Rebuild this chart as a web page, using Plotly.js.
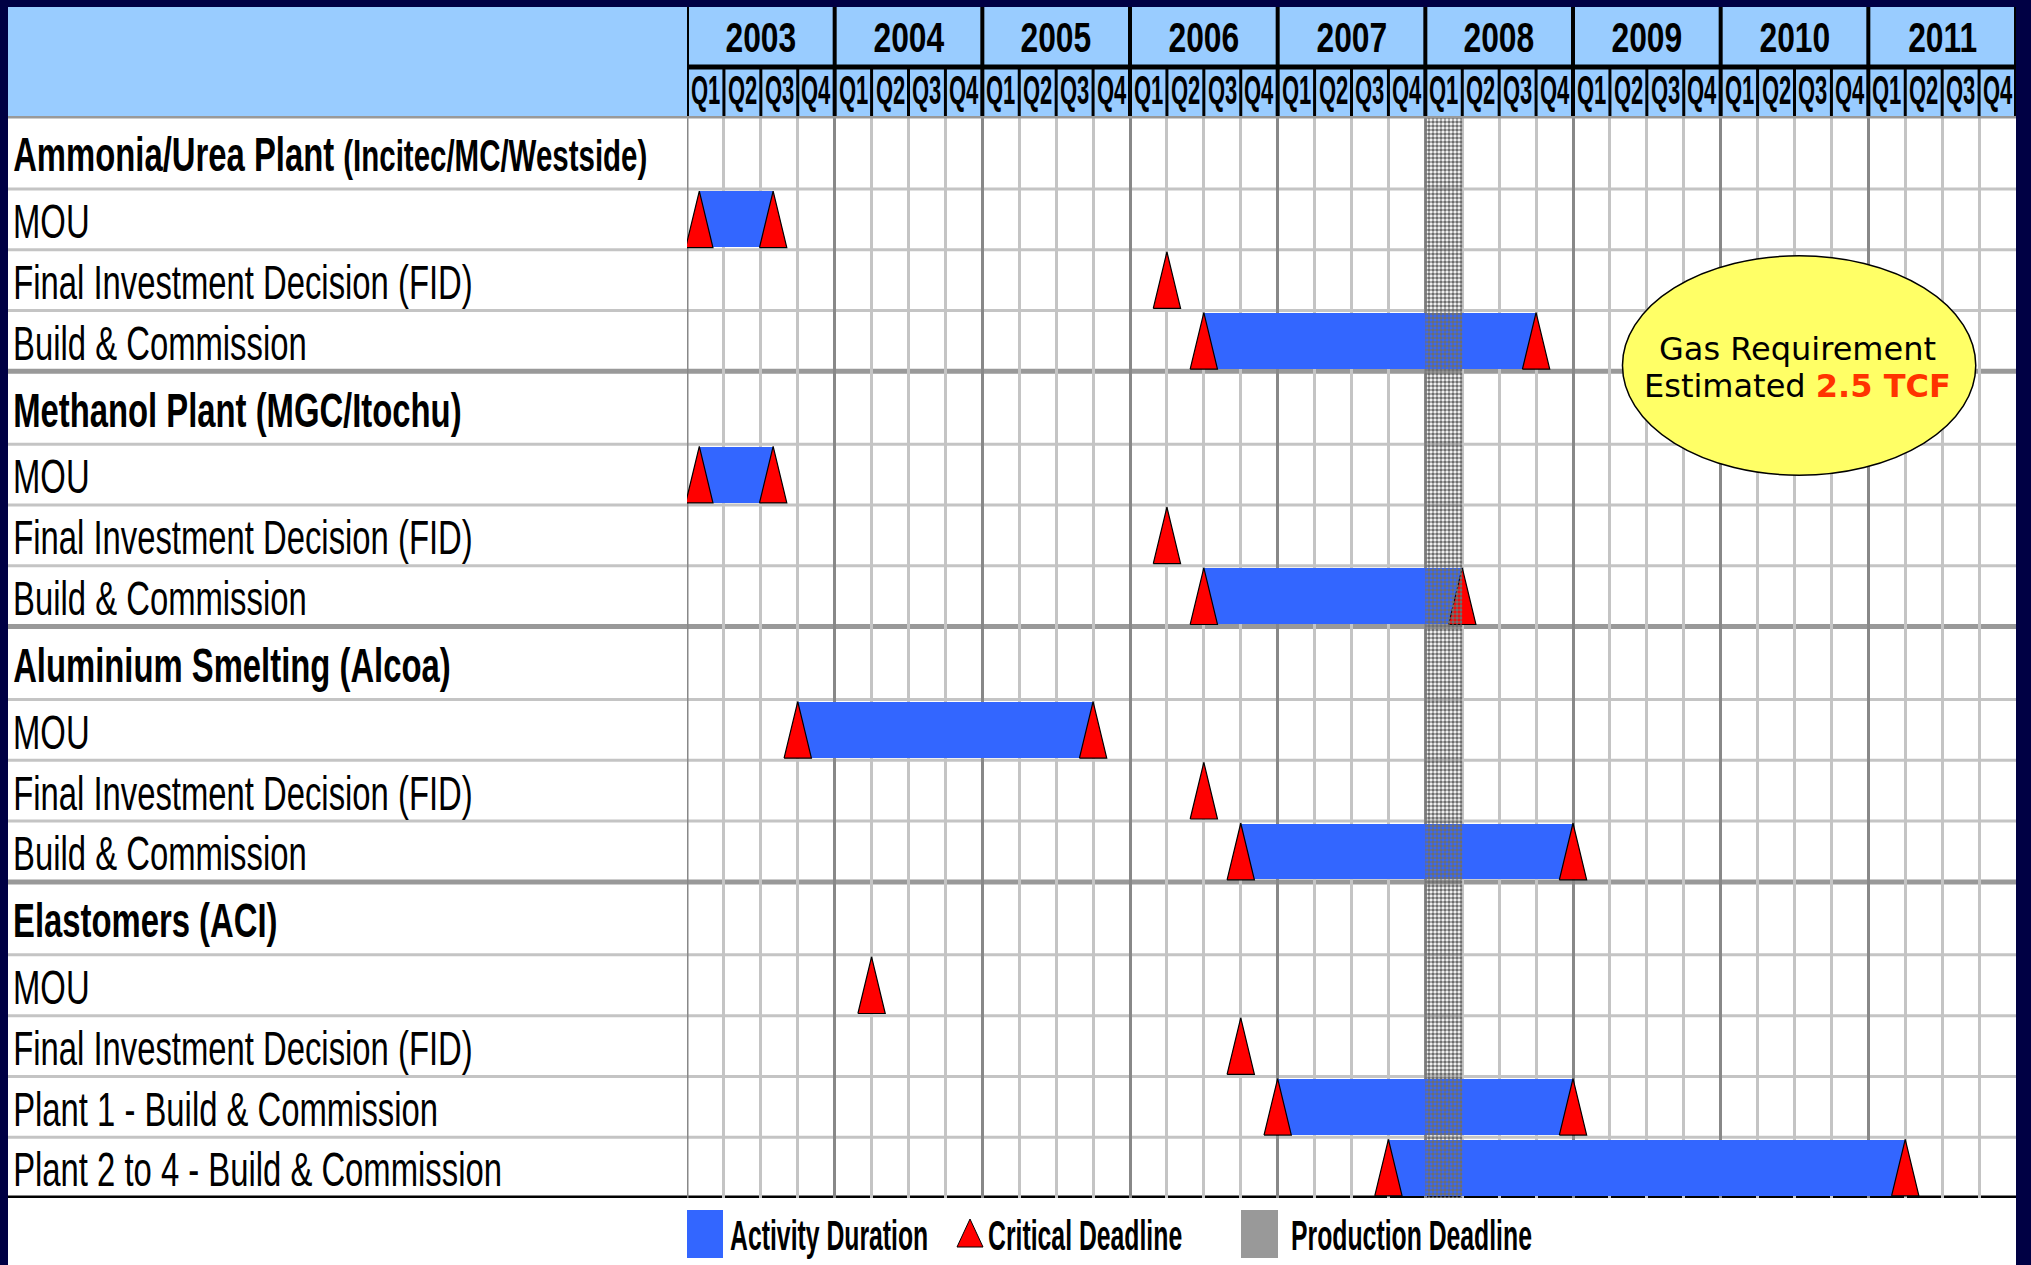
<!DOCTYPE html>
<html>
<head>
<meta charset="utf-8">
<script src="https://cdn.plot.ly/plotly-3.0.1.min.js"></script>
<style>
html, body { margin: 0; padding: 0; background: #000044; overflow: hidden; }
#chart { width: 2031px; height: 1265px; }
</style>
<style id="textfit"></style>
</head>
<body>
<div id="chart"></div>
<script>
// ---------------- data ----------------
const years = ["2003", "2004", "2005", "2006", "2007", "2008", "2009", "2010", "2011"];
const quarterLabels = ["Q1", "Q2", "Q3", "Q4"];

const groupNames = ["Ammonia/Urea Plant", "Methanol Plant", "Aluminium Smelting", "Elastomers"];
const groupPartners = ["(Incitec/MC/Westside)", "(MGC/Itochu)", "(Alcoa)", "(ACI)"];

const activityNames = [
  "MOU", "Final Investment Decision (FID)", "Build & Commission",
  "MOU", "Final Investment Decision (FID)", "Build & Commission",
  "MOU", "Final Investment Decision (FID)", "Build & Commission",
  "MOU", "Final Investment Decision (FID)", "Plant 1 - Build & Commission", "Plant 2 to 4 - Build & Commission"
];
const activityGroup = [0, 0, 0, 1, 1, 1, 2, 2, 2, 3, 3, 3, 3];
// start / end month of each activity (a single date = critical deadline only)
const activityStart = ["2003-02", "2006-04", "2006-07", "2003-02", "2006-04", "2006-07",
                       "2003-10", "2006-07", "2006-10", "2004-04", "2006-10", "2007-01", "2007-10"];
const activityEnd   = ["2003-08", null, "2008-10", "2003-08", null, "2008-04",
                       "2005-10", null, "2009-01", null, null, "2009-01", "2011-04"];

const productionDeadline = ["2008-01", "2008-04"];

const legendLabels = ["Activity Duration", "Critical Deadline", "Production Deadline"];
const calloutLines = ["Gas Requirement", "Estimated"];
const calloutValue = "2.5 TCF";

// ---------------- helpers ----------------
const W = 2031, H = 1265, ML = 687, MR = 15, MT = 116, MB = 67;
const plotW = W - ML - MR, plotH = H - MT - MB;
const px2x = px => (px - ML) / plotW;
const py2y = py => (H - MB - py) / plotH;

const firstYear = parseInt(years[0], 10);
const nQuarters = years.length * quarterLabels.length;
const q = s => {
  const [y, m] = s.split("-").map(Number);
  return (y - firstYear) * 4 + (m - 1) / 3;
};

const SANS = '"Liberation Sans", Arimo, Arial, sans-serif';
const VERDANA = '"DejaVu Sans", Verdana, sans-serif';

const BLUE = "#3366FF", RED = "#FF0000", GRAY = "#999999";

// ---------------- rows ----------------
const HEADER_H = 1.2, ITEM_H = 1;
const rows = [];
groupNames.forEach((g, gi) => {
  rows.push({ type: "header", gi: gi });
  activityNames.forEach((a, ai) => { if (activityGroup[ai] === gi) rows.push({ type: "item", ai: ai, gi: gi }); });
});
let cur = 0;
rows.forEach(r => {
  r.h = r.type === "header" ? HEADER_H : ITEM_H;
  r.top = cur; r.bottom = cur + r.h; r.mid = cur + r.h / 2;
  cur += r.h;
});
const Y_MAX = cur;

// ---------------- traces ----------------
const barY = [], barBase = [], barLen = [];
const triX = [], triY = [];
const HALF = 0.37, GAP = 0.035;
rows.forEach(r => {
  if (r.type !== "item") return;
  const s = activityStart[r.ai], e = activityEnd[r.ai];
  const marks = [q(s)];
  if (e) {
    barY.push(r.mid); barBase.push(q(s)); barLen.push(q(e) - q(s));
    marks.push(q(e));
  }
  marks.forEach(m => {
    triX.push(m - HALF, m, m + HALF, m - HALF, null);
    triY.push(r.bottom - GAP, r.top + GAP, r.bottom - GAP, r.bottom - GAP, null);
  });
});

const pd0 = q(productionDeadline[0]), pd1 = q(productionDeadline[1]);

const traces = [
  {
    type: "bar", orientation: "h", y: barY, x: barLen, base: barBase, width: 0.92,
    marker: { color: BLUE, line: { width: 0 } }, hoverinfo: "skip", showlegend: false
  },
  {
    type: "scatter", mode: "lines", x: triX, y: triY, fill: "toself", fillcolor: RED,
    line: { color: "#000000", width: 1.2 }, hoverinfo: "skip", showlegend: false
  },
  {
    type: "scatter", mode: "lines", x: [pd0, pd1, pd1, pd0, pd0], y: [0, 0, Y_MAX, Y_MAX, 0],
    fill: "toself", fillcolor: "rgba(0,0,0,0)",
    fillpattern: { shape: ".", fgcolor: "#6e6e6e", bgcolor: "rgba(0,0,0,0)", size: 4, solidity: 0.62, fillmode: "replace" },
    line: { width: 0, color: "rgba(0,0,0,0)" }, hoverinfo: "skip", showlegend: false
  }
];

// ---------------- shapes ----------------
const shapes = [];
shapes.push({ type: "rect", xref: "paper", yref: "paper", x0: px2x(8), x1: px2x(2016), y0: py2y(H), y1: py2y(7),
  fillcolor: "#FFFFFF", line: { width: 0 }, layer: "below" });
shapes.push({ type: "rect", xref: "paper", yref: "paper", x0: px2x(8), x1: px2x(2016), y0: py2y(116), y1: py2y(7),
  fillcolor: "#99CCFF", line: { width: 0 }, layer: "below" });

rows.forEach((r, i) => {
  const next = rows[i + 1];
  let color = "#C4C4C4", width = 3;
  if (!next) { color = "#000000"; width = 5; }
  else if (next.type === "header") { color = GRAY; width = 5; }
  shapes.push({ type: "line", xref: "paper", yref: "y", x0: px2x(8), x1: px2x(2016), y0: r.bottom, y1: r.bottom,
    line: { color: color, width: width }, layer: "below" });
});
shapes.push({ type: "line", xref: "paper", yref: "y", x0: px2x(8), x1: px2x(2016), y0: 0, y1: 0,
  line: { color: GRAY, width: 5 }, layer: "above" });
shapes.push({ type: "line", xref: "x", yref: "y", x0: 0, x1: 0, y0: 0, y1: Y_MAX,
  line: { color: "#888888", width: 3 }, layer: "below" });

for (let i = 0; i <= nQuarters; i++) {
  shapes.push({ type: "line", xref: "x", yref: "paper", x0: i, x1: i, y0: py2y(116), y1: py2y(i % 4 === 0 ? 7 : 67),
    line: { color: "#000000", width: i % 4 === 0 ? 4 : 3 }, layer: "above" });
}
shapes.push({ type: "line", xref: "paper", yref: "paper", x0: 0, x1: 1, y0: py2y(67), y1: py2y(67),
  line: { color: "#000000", width: 5 }, layer: "above" });

shapes.push({ type: "circle", xref: "x", yref: "y", x0: 25.34, x1: 34.91, y0: 2.30, y1: 5.91,
  fillcolor: "#FFFF66", line: { color: "#000000", width: 1.5 }, layer: "above" });

shapes.push({ type: "rect", xref: "paper", yref: "paper", x0: px2x(687), x1: px2x(723), y0: py2y(1258), y1: py2y(1210),
  fillcolor: BLUE, line: { width: 0 } });
shapes.push({ type: "path", xref: "paper", yref: "paper",
  path: "M" + px2x(957) + "," + py2y(1247) + " L" + px2x(970) + "," + py2y(1219) + " L" + px2x(983) + "," + py2y(1247) + " Z",
  fillcolor: RED, line: { color: "#000000", width: 1 } });
shapes.push({ type: "rect", xref: "paper", yref: "paper", x0: px2x(1241), x1: px2x(1278), y0: py2y(1258), y1: py2y(1210),
  fillcolor: GRAY, line: { width: 0 } });

// ---------------- annotations ----------------
// narrow (condensed) look: each annotation may get a horizontal squeeze factor
const annotations = [];
const squeeze = [];
function addAnn(a, sx) { annotations.push(a); squeeze.push(sx ? { sx: sx, origin: a.xanchor === "left" ? "0% 50%" : "50% 50%" } : null); }

years.forEach((y, i) => {
  addAnn({ xref: "x", yref: "paper", x: i * 4 + 2, y: py2y(37), text: "<b>" + y + "</b>", showarrow: false,
    xanchor: "center", yanchor: "middle", font: { family: SANS, size: 43, color: "#000000" } }, 0.74);
});
for (let i = 0; i < nQuarters; i++) {
  addAnn({ xref: "x", yref: "paper", x: i + 0.5, y: py2y(90), text: "<b>" + quarterLabels[i % 4] + "</b>",
    showarrow: false, xanchor: "center", yanchor: "middle", font: { family: SANS, size: 40, color: "#000000" } }, 0.55);
}
rows.forEach(r => {
  let text;
  if (r.type === "header") {
    const name = groupNames[r.gi], partner = groupPartners[r.gi];
    const long = (name + partner).length > 35;
    text = "<b>" + name + " " + (long ? "<span style='font-size:44px'>" + partner + "</span>" : partner) + "</b>";
  } else {
    text = activityNames[r.ai];
  }
  addAnn({ xref: "paper", yref: "y", x: px2x(11), y: r.mid + 0.03, text: text, showarrow: false,
    xanchor: "left", yanchor: "middle", font: { family: SANS, size: 49, color: "#000000" } }, r.type === "header" ? 0.67 : 0.67);
});
[[728, legendLabels[0]], [986, legendLabels[1]], [1289, legendLabels[2]]].forEach(([px, t]) => {
  addAnn({ xref: "paper", yref: "paper", x: px2x(px), y: py2y(1235), text: "<b>" + t + "</b>", showarrow: false,
    xanchor: "left", yanchor: "middle", font: { family: SANS, size: 42, color: "#000000" } }, 0.59);
});
// callout text, one annotation per line for tight line spacing
addAnn({ xref: "x", yref: "y", x: 30.08, y: (349 - MT) / (plotH / Y_MAX),
  text: calloutLines[0], showarrow: false, xanchor: "center", yanchor: "middle",
  font: { family: VERDANA, size: 32, color: "#000000" } }, null);
addAnn({ xref: "x", yref: "y", x: 30.08, y: (386 - MT) / (plotH / Y_MAX),
  text: calloutLines[1] + " <b><span style='color:#FF3300'>" + calloutValue + "</span></b>", showarrow: false,
  xanchor: "center", yanchor: "middle", font: { family: VERDANA, size: 32, color: "#000000" } }, null);

// CSS squeeze rules keyed on annotation index
document.getElementById("textfit").textContent = squeeze.map((s, i) => s ?
  '#chart g.annotation[data-index="' + i + '"] text.annotation-text{transform-box:fill-box;transform-origin:' +
  s.origin + ';transform:scaleX(' + s.sx + ');}' : "").join("\n");

// ---------------- layout ----------------
const layout = {
  width: W, height: H,
  margin: { l: ML, r: MR, t: MT, b: MB, pad: 0 },
  paper_bgcolor: "#000044", plot_bgcolor: "#FFFFFF",
  showlegend: false,
  bargap: 0,
  xaxis: {
    range: [0, nQuarters], showticklabels: false, ticks: "", zeroline: false, showline: false,
    tick0: 0, dtick: 4, showgrid: true, gridcolor: "#888888", gridwidth: 3,
    minor: { dtick: 1, tick0: 0, showgrid: true, gridcolor: "#C4C4C4", gridwidth: 3, ticks: "" },
    fixedrange: true
  },
  yaxis: {
    range: [Y_MAX, 0], showticklabels: false, ticks: "", zeroline: false, showgrid: false, showline: false,
    fixedrange: true
  },
  shapes: shapes,
  annotations: annotations
};

Plotly.newPlot("chart", traces, layout, { displayModeBar: false, staticPlot: true });
</script>
</body>
</html>
